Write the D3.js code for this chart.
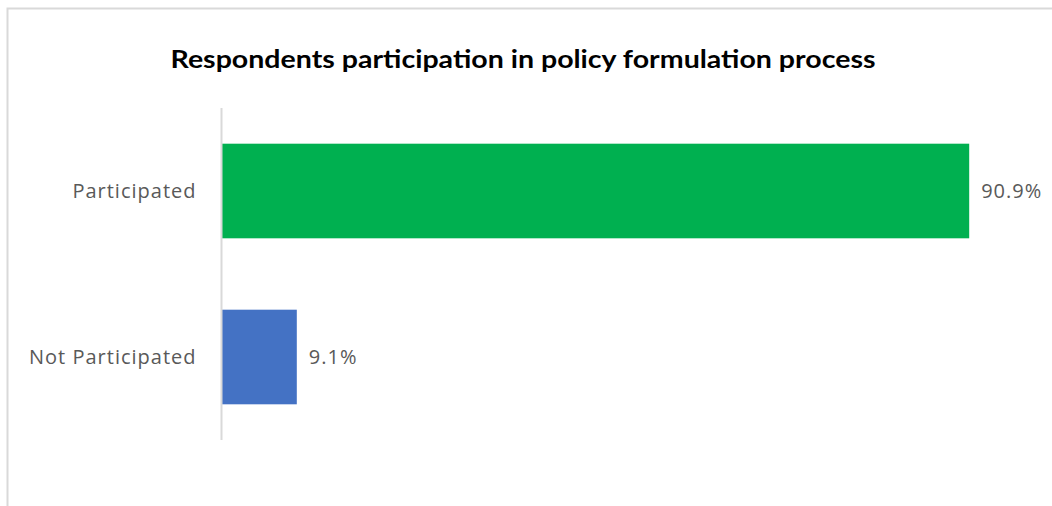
<!DOCTYPE html>
<html>
<head>
<meta charset="utf-8">
<script src="https://cdn.jsdelivr.net/npm/d3@7"></script>
<style>
  body { margin: 0; background: #fff; }
  text { font-family: "Open Sans", sans-serif; }
</style>
</head>
<body>
<div id="chart"></div>
<script>
var categories = ['Participated', 'Not Participated'];
var values = [90.9, 9.1];
var barColors = ['#00B050', '#4472C4'];
var title = 'Respondents participation in policy formulation process';

var width = 1052, height = 506;
var margin = {top: 108, right: 8, bottom: 66, left: 222};

var svg = d3.select('#chart').append('svg')
    .attr('width', width)
    .attr('height', height);

// chart frame
svg.append('rect')
    .attr('x', 7.5).attr('y', 8.5)
    .attr('width', width + 10).attr('height', height + 10)
    .style('fill', '#fff')
    .style('stroke', '#d9d9d9')
    .style('stroke-width', 2);

svg.append('text')
    .attr('x', 523)
    .attr('y', 68)
    .attr('text-anchor', 'middle')
    .attr('textLength', 705)
    .attr('lengthAdjust', 'spacingAndGlyphs')
    .style('font-family', 'Lato, sans-serif')
    .style('font-size', '25px')
    .style('font-weight', 'bold')
    .style('fill', '#000')
    .text(title);

var xScale = d3.scaleLinear()
    .domain([0, 100])
    .range([margin.left, margin.left + 822]);

var yScale = d3.scaleBand()
    .domain(categories)
    .range([margin.top, height - margin.bottom])
    .paddingInner(0.43)
    .paddingOuter(0.215);

var g = svg.append('g');

g.selectAll('rect.bar')
    .data(values)
    .enter().append('rect')
    .attr('class', 'bar')
    .attr('x', xScale(0))
    .attr('y', function(d, i) { return yScale(categories[i]); })
    .attr('width', function(d) { return xScale(d) - xScale(0); })
    .attr('height', yScale.bandwidth())
    .style('fill', function(d, i) { return barColors[i]; });

// value labels
g.selectAll('text.val')
    .data(values)
    .enter().append('text')
    .attr('class', 'val')
    .attr('x', function(d) { return xScale(d) + 12; })
    .attr('y', function(d, i) { return yScale(categories[i]) + yScale.bandwidth() / 2; })
    .attr('dy', '0.33em')
    .style('font-size', '20px')
    .style('letter-spacing', '1px')
    .style('fill', '#595959')
    .text(function(d) { return d.toFixed(1) + '%'; });

// category axis
var yAxis = d3.axisLeft(yScale).tickSize(0).tickPadding(25);
var axis_g = svg.append('g')
    .attr('transform', 'translate(' + (margin.left - 0.5) + ',0)')
    .call(yAxis);
axis_g.select('.domain')
    .attr('d', 'M0,' + margin.top + 'V' + (height - margin.bottom))
    .style('stroke', '#d9d9d9')
    .style('stroke-width', 2);
axis_g.selectAll('.tick text')
    .attr('dy', '0.33em')
    .style('font-size', '20px')
    .style('letter-spacing', '1px')
    .style('font-family', '"Open Sans", sans-serif')
    .style('fill', '#595959');
</script>
</body>
</html>
